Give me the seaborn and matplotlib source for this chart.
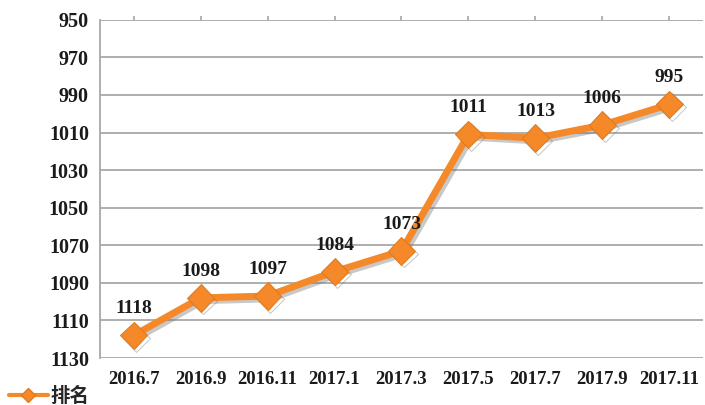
import matplotlib
matplotlib.use("Agg")
import matplotlib.pyplot as plt
import matplotlib.patheffects as pe
from matplotlib.lines import Line2D
import pandas as pd
import seaborn as sns

# data
months = ["2016.7", "2016.9", "2016.11", "2017.1", "2017.3",
          "2017.5", "2017.7", "2017.9", "2017.11"]
ranks = [1118, 1098, 1097, 1084, 1073, 1011, 1013, 1006, 995]
y_ticks = [950, 970, 990, 1010, 1030, 1050, 1070, 1090, 1110, 1130]

ORANGE = "#F5892A"
GRID = "#A8A8A8"
TEXT = "#1a1a1a"

sns.set_theme(style="white")
plt.rcParams["font.family"] = ["Liberation Serif", "Noto Sans CJK SC"]

df = pd.DataFrame({"month": months, "rank": ranks})
pos = list(range(len(months)))

fig = plt.figure(figsize=(7.05, 4.05), dpi=100)
ax = fig.add_axes([0.142, 0.116, 0.855, 0.835])

shadow = [pe.SimpleLineShadow(offset=(2, -2), shadow_color="#777777", alpha=0.4), pe.Normal()]
sns.lineplot(x=pos, y=df["rank"], ax=ax, color=ORANGE, linewidth=5,
             marker="D", markersize=14, markeredgecolor="#E07A1C",
             markerfacecolor=ORANGE, legend=False, path_effects=shadow)

for i, v in zip(pos, ranks):
    ax.annotate(str(v), (i, v), xytext=(0, 13), textcoords="offset points",
                ha="center", va="bottom", fontsize=14, fontweight="bold",
                color=TEXT)

ax.set_ylim(1130, 950)
ax.set_xlim(-0.5, len(months) - 0.5)
ax.set_yticks(y_ticks)
ax.set_yticklabels([str(t) for t in y_ticks], fontsize=14.5, fontweight="bold")
ax.yaxis.grid(True, color=GRID, linewidth=1.3)
ax.tick_params(axis="y", length=4, color=GRID, width=1, pad=4, labelcolor=TEXT)

# category ticks sit on the top line, labels sit below the plot
ax.set_xticks(pos)
ax.set_xticklabels([])
ax.tick_params(axis="x", top=True, bottom=False, length=3, color=GRID, direction="out")
for i, m in zip(pos, months):
    ax.text(i, 1137, m, ha="center", va="top", fontsize=13.5,
            fontweight="bold", color=TEXT)

for side in ["top", "right", "bottom"]:
    ax.spines[side].set_visible(False)
ax.spines["left"].set_color(GRID)
ax.spines["left"].set_linewidth(1.3)
ax.set_xlabel("")
ax.set_ylabel("")

handle = Line2D([], [], color=ORANGE, linewidth=3, marker="D", markersize=7,
                markerfacecolor=ORANGE, markeredgecolor="#E07A1C")
fig.legend([handle], ["排名"], loc="lower left", bbox_to_anchor=(-0.012, -0.045),
           frameon=False, prop={"family": ["Noto Sans CJK SC"], "weight": "bold", "size": 14},
           handlelength=2.0, handletextpad=0.15)

fig.savefig("out.png", dpi=100)
